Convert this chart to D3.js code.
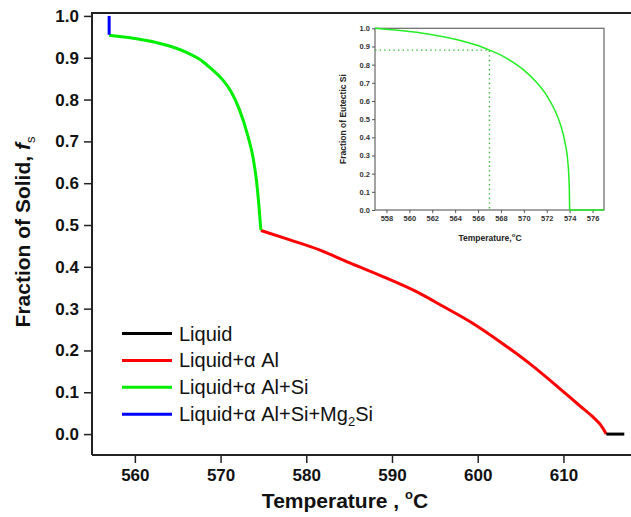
<!DOCTYPE html>
<html><head><meta charset="utf-8">
<script src="https://cdn.jsdelivr.net/npm/d3@7"></script>
<style>body{margin:0;background:#fff}svg{display:block}</style>
</head><body>
<script>
// ---- data ----
const liquidT = [615.0, 617.1];
const liquidF = [0, 0];
const alphaT = [574.7, 578, 581.6, 585, 589, 592.9, 596, 599.5, 603, 606.4, 609.5, 612, 613.5, 614.4, 615.0];
const alphaF = [0.487, 0.465, 0.440, 0.410, 0.376, 0.340, 0.305, 0.264, 0.215, 0.163, 0.110, 0.066, 0.040, 0.020, 0.0];
const siT = [557, 560, 562.6, 564.5, 566.1, 567.8, 569.0, 570.3, 571.2, 572.2, 573.2, 573.8, 574.2, 574.5, 574.7];
const siF = [0.954, 0.946, 0.936, 0.925, 0.912, 0.893, 0.872, 0.846, 0.820, 0.776, 0.712, 0.660, 0.604, 0.540, 0.488];
const mgT = [557, 557];
const mgF = [0.955, 1.0];
const xTicks = [560, 570, 580, 590, 600, 610];
const yTicks = [0.0, 0.1, 0.2, 0.3, 0.4, 0.5, 0.6, 0.7, 0.8, 0.9, 1.0];
const legendLabels = ["Liquid", "Liquid+α Al", "Liquid+α Al+Si", "Liquid+α Al+Si+Mg2Si"];
const legendColors = ["#000000", "#ff0000", "#00ee00", "#0000ff"];
// inset
const insetT = [557, 560, 562, 564, 566, 567, 568, 569, 570, 571, 572, 572.7, 573.2, 573.6, 573.85, 573.97, 574.0];
const insetF = [1.0, 0.982, 0.965, 0.940, 0.905, 0.880, 0.852, 0.815, 0.770, 0.710, 0.630, 0.550, 0.470, 0.370, 0.260, 0.120, 0.0];
const insetFlatT = [574.0, 577];
const insetFlatF = [0, 0];
const insetMarkT = 567, insetMarkF = 0.88;
const insetXTicks = [558, 560, 562, 564, 566, 568, 570, 572, 574, 576];
const insetYTicks = [0.0, 0.1, 0.2, 0.3, 0.4, 0.5, 0.6, 0.7, 0.8, 0.9, 1.0];

const W = 631, H = 517;
const svg = d3.select("body").append("svg").attr("width", W).attr("height", H);

// ---- main chart ----
const x = d3.scaleLinear().domain([555, 618]).range([92, 632]);
const y = d3.scaleLinear().domain([-0.05, 1.007]).range([455, 13]);
const font = "Arial, 'Liberation Sans', sans-serif";

svg.append("path").attr("d", `M${x.range()[0]},${y.range()[0]}V${y.range()[1]}H${x.range()[1]}`)
  .attr("fill", "none").attr("stroke", "#222").attr("stroke-width", 2);
svg.append("line").attr("x1", 92).attr("x2", 632).attr("y1", 455).attr("y2", 455)
  .attr("stroke", "#222").attr("stroke-width", 2);

const xAxis = svg.append("g").attr("transform", "translate(0,455)")
  .call(d3.axisBottom(x).tickValues(xTicks).tickSize(8).tickPadding(6).tickFormat(d3.format("d")));
const yAxis = svg.append("g").attr("transform", "translate(92,0)")
  .call(d3.axisLeft(y).tickValues(yTicks).tickSize(8).tickPadding(5).tickFormat(d3.format(".1f")));
[xAxis, yAxis].forEach(g => {
  g.select(".domain").remove();
  g.selectAll(".tick line").attr("stroke", "#222").attr("stroke-width", 1.5);
  g.selectAll("text").attr("font-family", font).attr("font-weight", "bold").attr("font-size", 17).attr("fill", "#111");
});

const line = d3.line().x(d => x(d[0])).y(d => y(d[1]));
const curve = d3.line().x(d => x(d[0])).y(d => y(d[1])).curve(d3.curveMonotoneX);
const zip = (a, b) => a.map((v, i) => [v, b[i]]);
svg.append("path").attr("d", curve(zip(alphaT, alphaF))).attr("fill", "none").attr("stroke", legendColors[1]).attr("stroke-width", 3);
svg.append("path").attr("d", curve(zip(siT, siF))).attr("fill", "none").attr("stroke", legendColors[2]).attr("stroke-width", 3);
svg.append("path").attr("d", line(zip(mgT, mgF))).attr("fill", "none").attr("stroke", legendColors[3]).attr("stroke-width", 3);
svg.append("path").attr("d", line(zip(liquidT, liquidF))).attr("fill", "none").attr("stroke", legendColors[0]).attr("stroke-width", 3);

const yt = svg.append("text").attr("transform", "translate(30,232) rotate(-90)")
  .attr("text-anchor", "middle").attr("font-family", font).attr("font-weight", "bold").attr("font-size", 21).attr("fill", "#111");
yt.append("tspan").text("Fraction of Solid, ");
yt.append("tspan").attr("font-style", "italic").text("f");
yt.append("tspan").attr("font-size", 13).attr("font-weight", "normal").attr("dy", 5).text("s");

const xt = svg.append("text").attr("x", 345).attr("y", 508)
  .attr("text-anchor", "middle").attr("font-family", font).attr("font-weight", "bold").attr("font-size", 21).attr("fill", "#111");
xt.append("tspan").text("Temperature , ");
xt.append("tspan").attr("font-size", 13).attr("dy", -9).text("o");
xt.append("tspan").attr("dy", 9).text("C");

const lg = svg.append("g");
legendLabels.forEach((lab, i) => {
  const yy = 333.5 + i * 26.9;
  lg.append("line").attr("x1", 122).attr("x2", 172).attr("y1", yy).attr("y2", yy)
    .attr("stroke", legendColors[i]).attr("stroke-width", 3);
  const t = lg.append("text").attr("x", 179).attr("y", yy + 7).attr("font-family", font)
    .attr("font-size", 20).attr("fill", "#111");
  if (lab.endsWith("Mg2Si")) {
    t.append("tspan").text(lab.slice(0, -3));
    t.append("tspan").attr("font-size", 13).attr("dy", 5).text("2");
    t.append("tspan").attr("dy", -5).text("Si");
  } else {
    t.text(lab);
  }
});

// ---- inset ----
const ix = d3.scaleLinear().domain([557, 577]).range([375, 604]);
const iy = d3.scaleLinear().domain([0, 1]).range([210, 28.3]);
const ins = svg.append("g");
ins.append("rect").attr("x", 375).attr("y", 28.3).attr("width", 229).attr("height", 181.7)
  .attr("fill", "none").attr("stroke", "#666").attr("stroke-width", 1.2);
const ixa = ins.append("g").attr("transform", "translate(0,210)")
  .call(d3.axisBottom(ix).tickValues(insetXTicks).tickSize(3).tickPadding(3).tickFormat(d3.format("d")));
const iya = ins.append("g").attr("transform", "translate(375,0)")
  .call(d3.axisLeft(iy).tickValues(insetYTicks).tickSize(3).tickPadding(2).tickFormat(d3.format(".1f")));
[ixa, iya].forEach(g => {
  g.select(".domain").remove();
  g.selectAll(".tick line").attr("stroke", "#555");
  g.selectAll("text").attr("font-family", font).attr("font-weight", "bold").attr("font-size", 7.5).attr("fill", "#333");
});
const iline = d3.line().x(d => ix(d[0])).y(d => iy(d[1]));
const icurve = d3.line().x(d => ix(d[0])).y(d => iy(d[1])).curve(d3.curveMonotoneX);
ins.append("path").attr("d", iline([[ix.domain()[0], insetMarkF], [insetMarkT, insetMarkF], [insetMarkT, 0]]))
  .attr("fill", "none").attr("stroke", "#33bb33").attr("stroke-width", 1.4).attr("stroke-dasharray", "1.4,3.2");
ins.append("path").attr("d", icurve(zip(insetT, insetF))).attr("fill", "none").attr("stroke", "#22ee22").attr("stroke-width", 1.5);
ins.append("path").attr("d", iline(zip(insetFlatT, insetFlatF))).attr("fill", "none").attr("stroke", "#22ee22").attr("stroke-width", 1.5);

ins.append("text").attr("transform", "translate(346,119) rotate(-90)").attr("text-anchor", "middle")
  .attr("font-family", font).attr("font-weight", "bold").attr("font-size", 8.5).attr("fill", "#222")
  .text("Fraction of Eutectic Si");
const ixt = ins.append("text").attr("x", 490).attr("y", 241).attr("text-anchor", "middle")
  .attr("font-family", font).attr("font-weight", "bold").attr("font-size", 8.5).attr("fill", "#222");
ixt.append("tspan").text("Temperature,");
ixt.append("tspan").attr("font-size", 6).attr("dy", -4).text("o");
ixt.append("tspan").attr("dy", 4).text("C");
</script>
</body></html>
